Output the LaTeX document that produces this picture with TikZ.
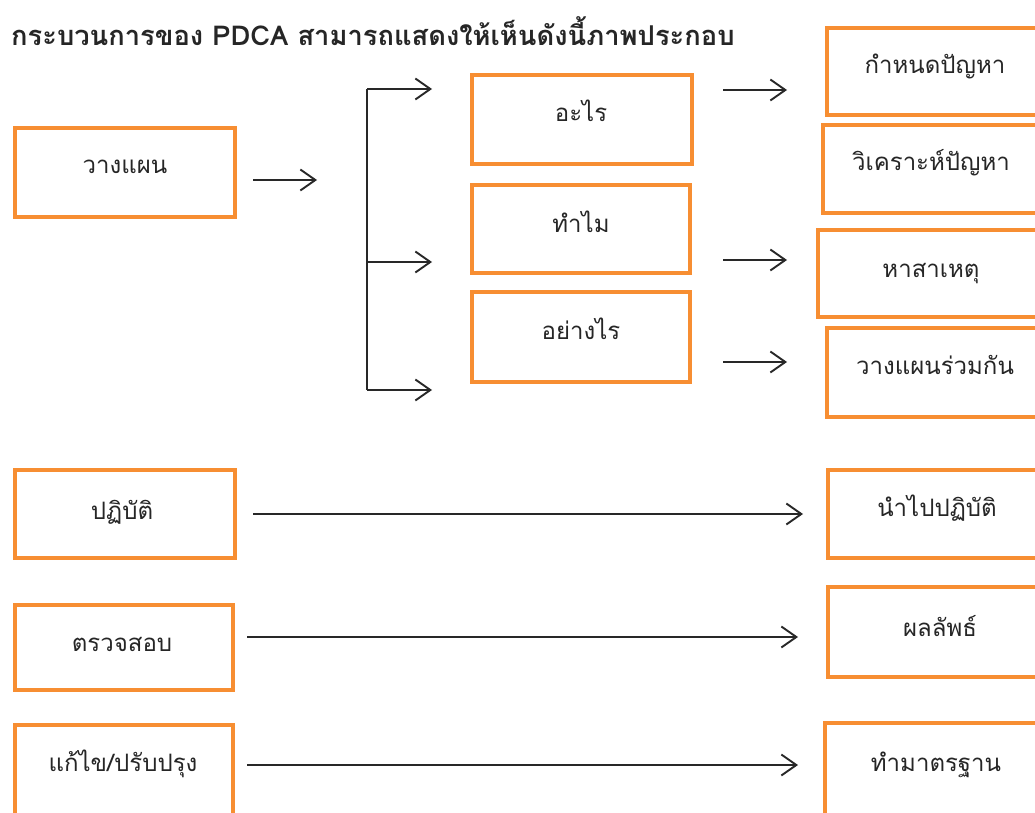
\documentclass[tikz,border=0pt]{standalone}
\usepackage{fontspec}
\usetikzlibrary{arrows.meta}
\newfontfamily\thai[Script=Thai]{Loma}
\definecolor{boxorange}{RGB}{247,142,50}
\definecolor{arrgray}{RGB}{40,40,40}
\tikzset{
  pdbox/.style={draw=boxorange, line width=3.5pt, fill=none, inner sep=0pt},
  pdtext/.style={font=\thai\fontsize{24}{28}\selectfont, anchor=base, inner sep=0pt, text=black!85},
  pdarrow/.style={draw=arrgray, line width=1.9pt, -{Straight Barb[length=15pt,width=21pt,line width=1.9pt]}},
  pdline/.style={draw=arrgray, line width=1.9pt},
}
\newcommand{\pdrect}[5]{% name, x1, y1, x2, y2
  \node[pdbox, minimum width={#4-#2}, minimum height={#5-#3}] (#1) at ({(#2+#4)/2},{(#3+#5)/2}) {};}
\begin{document}
\begin{tikzpicture}[x=1pt,y=-1pt]
\useasboundingbox (0,0) rectangle (1035,813);
\fill[white] (0,0) rectangle (1035,813);
\clip (0,0) rectangle (1035,813);
% title
\node[font=\thai\bfseries\fontsize{27.3}{32}\selectfont, anchor=base west, inner sep=0pt, text=black!85] (title) at (11,46) {กระบวนการของ PDCA สามารถแสดงให้เห็นดังนี้ภาพประกอบ};
% boxes
\pdrect{plan}{15}{128}{235}{217}
\pdrect{what}{472}{75}{692}{164}
\pdrect{why}{472}{185}{690}{273}
\pdrect{how}{472}{292}{690}{382}
\pdrect{define}{827}{28}{1045}{115}
\pdrect{analyze}{823}{125}{1045}{213}
\pdrect{cause}{818}{230}{1045}{317}
\pdrect{joint}{827}{328}{1045}{417}
\pdrect{do}{15}{470}{235}{558}
\pdrect{check}{15}{605}{233}{690}
\pdrect{act}{15}{725}{233}{818}
\pdrect{impl}{828}{470}{1045}{558}
\pdrect{result}{828}{587}{1045}{677}
\pdrect{std}{825}{723}{1045}{818}
% texts
\node[pdtext] (plan-t) at (125,174) {วางแผน};
\node[pdtext] (what-t) at (581,122) {อะไร};
\node[pdtext] (why-t) at (581,232) {ทำไม};
\node[pdtext] (how-t) at (581,339) {อย่างไร};
\node[pdtext] (define-t) at (935,74) {กำหนดปัญหา};
\node[pdtext] (analyze-t) at (931,171) {วิเคราะห์ปัญหา};
\node[pdtext] (cause-t) at (931,277) {หาสาเหตุ};
\node[pdtext] (joint-t) at (935,374) {วางแผนร่วมกัน};
\node[pdtext] (do-t) at (122,519) {ปฏิบัติ};
\node[pdtext] (check-t) at (122,651) {ตรวจสอบ};
\node[pdtext] (act-t) at (123,771) {แก้ไข/ปรับปรุง};
\node[pdtext] (impl-t) at (937,516) {นำไปปฏิบัติ};
\node[pdtext] (result-t) at (940,636) {ผลลัพธ์};
\node[pdtext] (std-t) at (936,771) {ทำมาตรฐาน};
% connector coordinates
\coordinate (p1) at (253,180); \coordinate (p2) at (317,180);
\coordinate (bt) at (367,89); \coordinate (bm) at (367,262); \coordinate (bb) at (367,390);
\coordinate (at) at (432,89); \coordinate (am) at (432,262); \coordinate (ab) at (432,390);
\coordinate (r1s) at (723,90); \coordinate (r1e) at (787,90);
\coordinate (r2s) at (723,260); \coordinate (r2e) at (787,260);
\coordinate (r3s) at (723,362); \coordinate (r3e) at (787,362);
\coordinate (d1s) at (253,514); \coordinate (d1e) at (803,514);
\coordinate (d2s) at (247,637); \coordinate (d2e) at (798,637);
\coordinate (d3s) at (247,765); \coordinate (d3e) at (798,765);
% connectors
\draw[pdarrow] (p1) -- (p2);
\draw[pdline] (bt) -- (bb);
\draw[pdarrow] (bt) -- (at);
\draw[pdarrow] (bm) -- (am);
\draw[pdarrow] (bb) -- (ab);
\draw[pdarrow] (r1s) -- (r1e);
\draw[pdarrow] (r2s) -- (r2e);
\draw[pdarrow] (r3s) -- (r3e);
\draw[pdarrow] (d1s) -- (d1e);
\draw[pdarrow] (d2s) -- (d2e);
\draw[pdarrow] (d3s) -- (d3e);
\end{tikzpicture}
\end{document}
